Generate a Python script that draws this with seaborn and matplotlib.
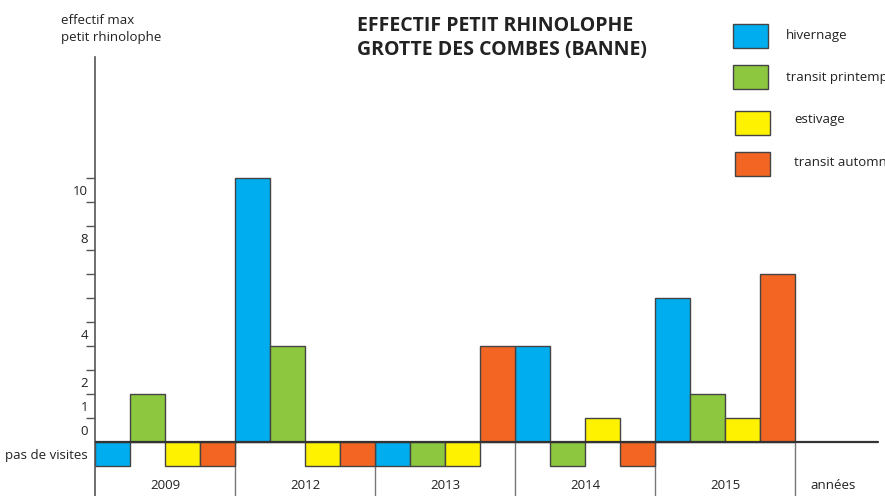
import matplotlib
matplotlib.use("Agg")
import matplotlib.pyplot as plt
from matplotlib.patches import Rectangle
import seaborn as sns
import pandas as pd

# --- données (hauteurs en graduations ; -1 = pas de visites) ---
annees = ["2009", "2012", "2013", "2014", "2015"]
saisons = ["hivernage", "transit printemps", "estivage", "transit automne"]
hivernage = [-1, 11, -1, 4, 6]
transit_printemps = [2, 4, -1, -1, 2]
estivage = [-1, -1, -1, 1, 1]
transit_automne = [-1, -1, 4, -1, 7]
couleurs = ["#00AEEF", "#8DC63F", "#FFF200", "#F26522"]

# graduations de l'axe y (texte placé entre les traits)
y_graduations = [1, 2, 3, 4, 5, 6, 7, 8, 9, 10, 11]
y_etiquettes = ["pas de visites", "0", "1", "2", "4", "8", "10"]
y_etiq_pos = [-0.5, 0.5, 1.5, 2.5, 4.5, 8.5, 10.5]

df = pd.DataFrame({
    "annee": annees * 4,
    "saison": [s for s in saisons for _ in annees],
    "effectif": hivernage + transit_printemps + estivage + transit_automne,
})

sns.set_theme(style="white")
plt.rcParams["font.family"] = ["Open Sans", "DejaVu Sans"]

W, H = 885, 496
fig = plt.figure(figsize=(W / 100, H / 100), dpi=100)
ax = fig.add_axes([95 / W, 0, 790 / W, 1])

sns.barplot(data=df, x="annee", y="effectif", hue="saison", order=annees,
            hue_order=saisons, palette=couleurs, saturation=1, width=1, gap=0,
            dodge=True, errorbar=None, edgecolor="#444444", linewidth=1,
            legend=False, ax=ax)

ax.set_xlim(-0.5, (W - 95) / 140 - 0.5)
ax.set_ylim(-(H - 442) / 24, 442 / 24)
ax.set_xlabel(""); ax.set_ylabel("")
ax.set_xticks([])

for s in ["top", "right", "bottom"]:
    ax.spines[s].set_visible(False)
ax.spines["left"].set_color("#555555")
ax.spines["left"].set_linewidth(1.2)
ax.spines["left"].set_bounds(-(H - 442) / 24, (442 - 57) / 24)

ax.set_yticks(y_graduations)
ax.set_yticklabels([])
ax.tick_params(axis="y", which="major", length=6.5, width=1, color="#555555", left=True)
ax.set_yticks(y_etiq_pos, minor=True)
ax.set_yticklabels(y_etiquettes, minor=True)
ax.tick_params(axis="y", which="minor", length=0, pad=5, labelsize=9.5, labelcolor="#222222")

# ligne de base et séparateurs d'années
ax.axhline(0, xmin=0, xmax=(878 - 95) / 790, color="#333333", lw=1.6, zorder=5)
ax.vlines([i + 0.5 for i in range(len(annees))], -(H - 442) / 24, 0,
          color="#777777", lw=1, zorder=0)
for i, a in enumerate(annees):
    ax.text(i, -1.8, a, ha="center", va="center", fontsize=9.5, color="#222222")
ax.text(4.77, -1.8, "années", ha="center", va="center", fontsize=9.5, color="#222222")

fig.text(61 / W, 1 - 29 / H, "effectif max\npetit rhinolophe", ha="left", va="center",
         fontsize=9.5, color="#222222", linespacing=1.35)
fig.text(357 / W, 1 - 38 / H, "EFFECTIF PETIT RHINOLOPHE\nGROTTE DES COMBES (BANNE)",
         ha="left", va="center", fontsize=14, fontweight="bold", color="#222222",
         linespacing=1.3)

# légende
leg_boites = [(733, 24), (733, 65), (735, 111), (735, 152)]
leg_textes = [(786, 36), (786, 77), (794, 119), (794, 163)]
for s, c, (bx, by), (tx, ty) in zip(saisons, couleurs, leg_boites, leg_textes):
    fig.patches.append(Rectangle((bx / W, 1 - (by + 24) / H), 35 / W, 24 / H,
                                 facecolor=c, edgecolor="#444444", lw=1,
                                 transform=fig.transFigure))
    fig.text(tx / W, 1 - ty / H, s, ha="left", va="center", fontsize=9.5, color="#222222")

fig.savefig("out.png", dpi=100)
